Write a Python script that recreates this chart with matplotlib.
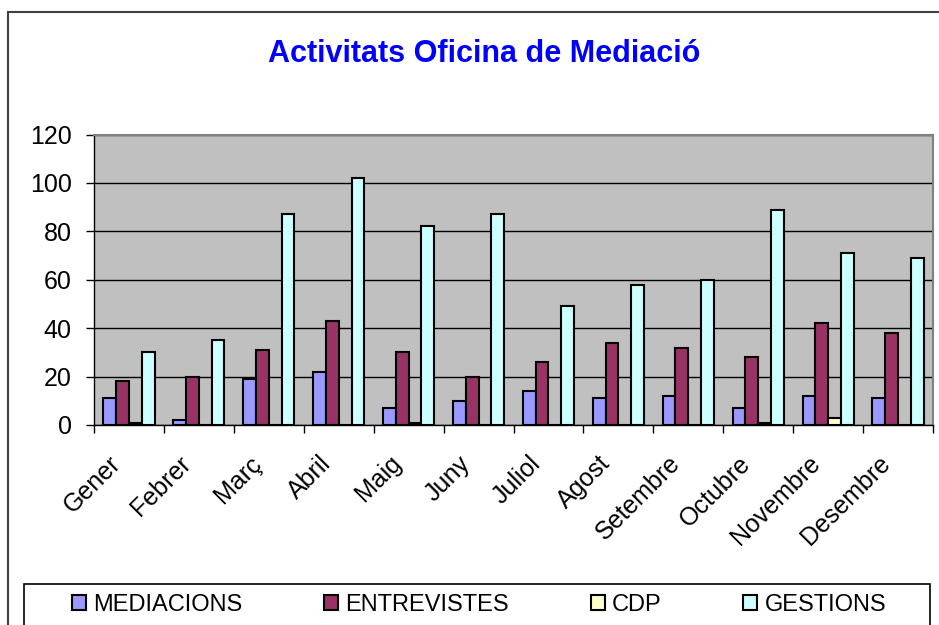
import numpy as np
import matplotlib.pyplot as plt
from matplotlib.patches import Rectangle
from matplotlib.transforms import ScaledTranslation

plt.rcParams['font.family'] = ['Liberation Sans', 'DejaVu Sans']

months = ['Gener', 'Febrer', 'Març', 'Abril', 'Maig', 'Juny', 'Juliol',
          'Agost', 'Setembre', 'Octubre', 'Novembre', 'Desembre']
mediacions = [11, 2, 19, 22, 7, 10, 14, 11, 12, 7, 12, 11]
entrevistes = [18, 20, 31, 43, 30, 20, 26, 34, 32, 28, 42, 38]
cdp = [1, 0, 0, 0, 1, 0, 0, 0, 0, 1, 3, 0]
gestions = [30, 35, 87, 102, 82, 87, 49, 58, 60, 89, 71, 69]

series = [('MEDIACIONS', mediacions, '#9999FF'),
          ('ENTREVISTES', entrevistes, '#993366'),
          ('CDP', cdp, '#FFFFCC'),
          ('GESTIONS', gestions, '#CCFFFF')]

fig = plt.figure(figsize=(9.39, 6.25), dpi=100)
ax = fig.add_axes([94 / 939, 200 / 625, (933 - 94) / 939, (425 - 134.5) / 625])
ax.set_facecolor('#C0C0C0')

x = np.arange(len(months))
w = 0.183
for i, (name, vals, col) in enumerate(series):
    ax.bar(x + (i - 1.5) * w, vals, w, color=col, edgecolor='black',
           linewidth=1.5, label=name, zorder=3)

ax.set_xlim(-0.5, len(months) - 0.5)
ax.set_ylim(0, 120)
ax.set_yticks(range(0, 121, 20))
ax.yaxis.grid(True, color='black', linewidth=1, zorder=1)
ax.tick_params(axis='y', labelsize=18, length=6, direction='out', width=1, pad=10)

# category boundaries as ticks, names centred between them
ax.set_xticks(np.arange(-0.5, len(months), 1))
ax.set_xticklabels([])
ax.tick_params(axis='x', which='major', length=6, direction='out', width=1)
ax.set_xticks(x, minor=True)
ax.set_xticklabels(months, minor=True, rotation=45, ha='right',
                   rotation_mode='anchor', fontsize=18)
ax.tick_params(axis='x', which='minor', length=0, pad=19)
shift = ScaledTranslation(-20 / 100, 0, fig.dpi_scale_trans)
for lab in ax.get_xticklabels(minor=True):
    lab.set_transform(lab.get_transform() + shift)

for s in ['top', 'right']:
    ax.spines[s].set_color('#808080')
    ax.spines[s].set_linewidth(1.5)
for s in ['left', 'bottom']:
    ax.spines[s].set_color('black')
    ax.spines[s].set_linewidth(1)

fig.text(484 / 939, 1 - 54 / 625, 'Activitats Oficina de Mediació',
         ha='center', va='center', fontsize=22, fontweight='bold', color='#0000FF')

# outer chart border
fig.patches.append(Rectangle((8 / 939, -0.1), 1.2, 1.1 - 12 / 625,
                             transform=fig.transFigure, fill=False,
                             edgecolor='#404040', linewidth=1.5))
# legend box
fig.patches.append(Rectangle((24 / 939, -0.1), (930 - 24) / 939, 0.1 + 41 / 625,
                             transform=fig.transFigure, fill=False,
                             edgecolor='black', linewidth=1.2))

handles, labels = ax.get_legend_handles_labels()
fig.legend(handles, labels, ncol=4, loc='center', frameon=False,
           bbox_to_anchor=(479 / 939, 1 - 605 / 625), fontsize=17,
           handlelength=0.6, handleheight=0.6, handletextpad=0.3,
           columnspacing=3.46)

fig.savefig('out.png', dpi=100)
